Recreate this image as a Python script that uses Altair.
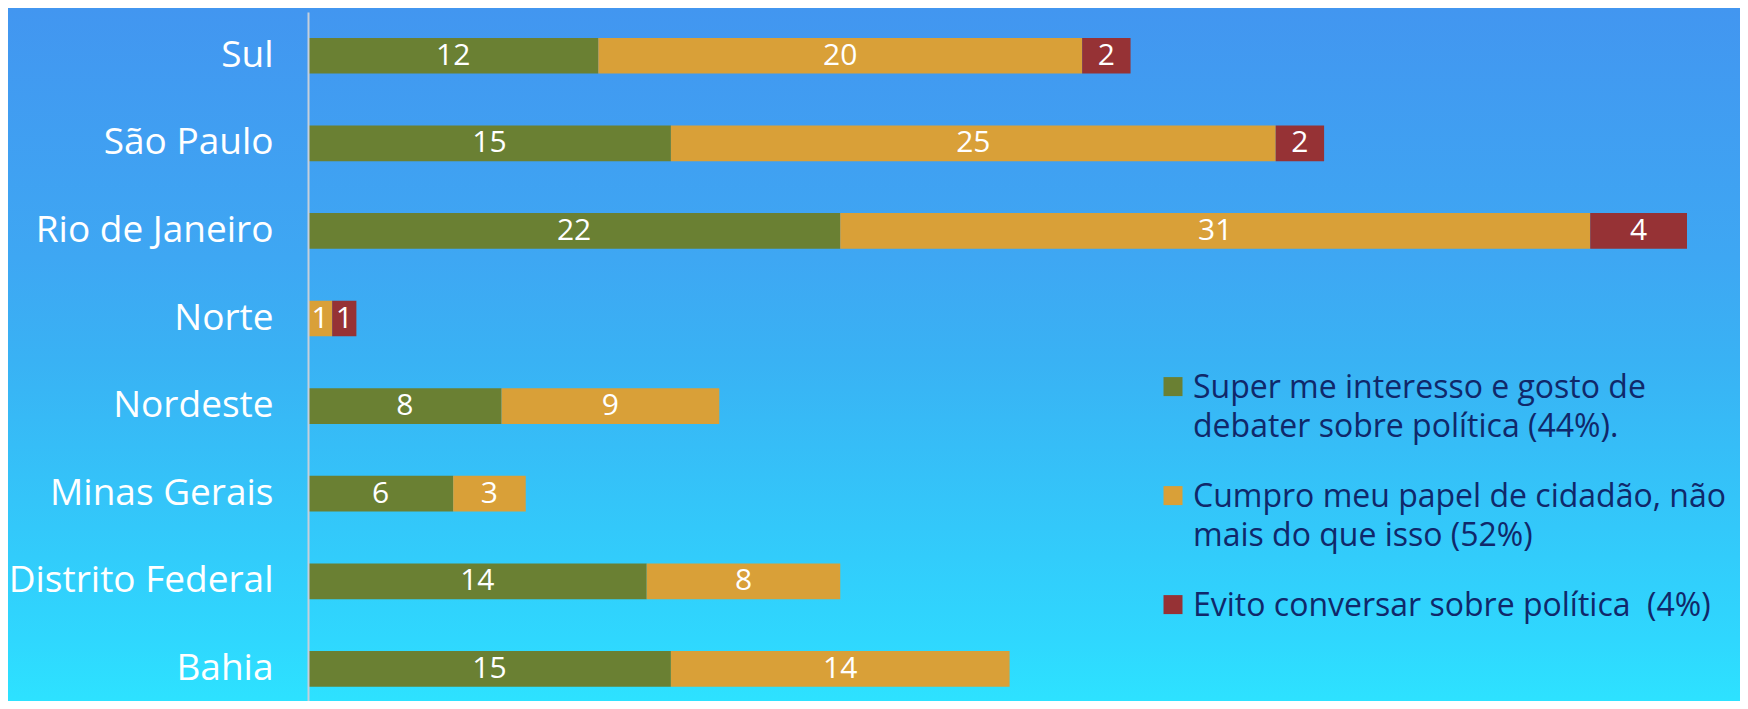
import altair as alt
import pandas as pd

regions = ["Sul", "São Paulo", "Rio de Janeiro", "Norte", "Nordeste",
           "Minas Gerais", "Distrito Federal", "Bahia"]
super_interesso = [12, 15, 22, 0, 8, 6, 14, 15]
cumpro_papel = [20, 25, 31, 1, 9, 3, 8, 14]
evito_conversar = [2, 2, 4, 1, 0, 0, 0, 0]
series = [
    "Super me interesso e gosto de|debater sobre política (44%).",
    "Cumpro meu papel de cidadão, não|mais do que isso (52%)",
    "Evito conversar sobre política \u00a0(4%)",
]
colors = ["#6A8033", "#D9A038", "#963235"]

rows = []
for i, r in enumerate(regions):
    for j, vals in enumerate([super_interesso, cumpro_papel, evito_conversar]):
        rows.append({"region": r, "serie": series[j], "ordem": j, "valor": vals[i]})
df = pd.DataFrame(rows)

FONT = "Open Sans"
W, H = 1379, 689

base = (
    alt.Chart(df)
    .transform_filter("datum.valor > 0")
    .transform_stack(stack="valor", groupby=["region"], as_=["v0", "v1"],
                     sort=[alt.SortField(field="ordem", order="ascending")])
    .transform_calculate(mid="(datum.v0 + datum.v1) / 2")
)

y_enc = alt.Y(
    "region:N", sort=regions,
    scale=alt.Scale(paddingInner=0.5925, paddingOuter=0.229, align=0.645),
    axis=alt.Axis(title=None, labelFontSize=37, labelFont=FONT, labelColor="white",
                  ticks=False, labelPadding=35, domainColor="#C5D0DC", domainWidth=2,
                  grid=False, labelLimit=0, zindex=2),
)
x_scale = alt.Scale(domain=[0, 57], nice=False, zero=True)

bars = base.mark_bar().encode(
    y=y_enc,
    x=alt.X("v0:Q", scale=x_scale, axis=None),
    x2="v1:Q",
    color=alt.Color(
        "serie:N",
        scale=alt.Scale(domain=series, range=colors),
        legend=alt.Legend(
            orient="none", legendX=849, legendY=370, title=None,
            labelFontSize=32, labelFont=FONT, labelColor="#10286A", labelLimit=0,
            labelOffset=4, labelBaseline="alphabetic",
            symbolType="M-1,-2.2H1V-0.2H-1Z", symbolSize=361, symbolStrokeWidth=0,
            symbolOpacity=1, rowPadding=38, padding=0,
            labelExpr="split(datum.label, '|')",
        ),
    ),
)

labels = base.mark_text(color="white", fontSize=30, font=FONT).encode(
    y=alt.Y("region:N", sort=regions),
    x=alt.X("mid:Q", scale=x_scale, axis=None),
    text="valor:Q",
)

gradient = alt.LinearGradient(
    gradient="linear", x1=0, x2=0, y1=0, y2=1,
    stops=[
        alt.GradientStop(color="#4296F0", offset=0),
        alt.GradientStop(color="#3EA7F3", offset=0.36),
        alt.GradientStop(color="#39B2F4", offset=0.51),
        alt.GradientStop(color="#2FD7FE", offset=0.91),
        alt.GradientStop(color="#2DE2FF", offset=1),
    ],
)
bg = alt.Chart(pd.DataFrame({"k": [0]})).mark_rect(clip=False, fill=gradient).encode(
    x=alt.value(-300), x2=alt.value(W + 53), y=alt.value(-4), y2=alt.value(H)
)

chart = (
    alt.layer(bg, bars, labels)
    .properties(width=W, height=H,
                padding={"left": 300, "top": 4, "right": 53, "bottom": 0},
                autosize=alt.AutoSizeParams(type="none"))
    .configure(style={"guide-label": {"lineHeight": 39}})
    .configure_view(stroke=None)
)

chart.save("out.html", embed_options={"renderer": "svg", "actions": False})
